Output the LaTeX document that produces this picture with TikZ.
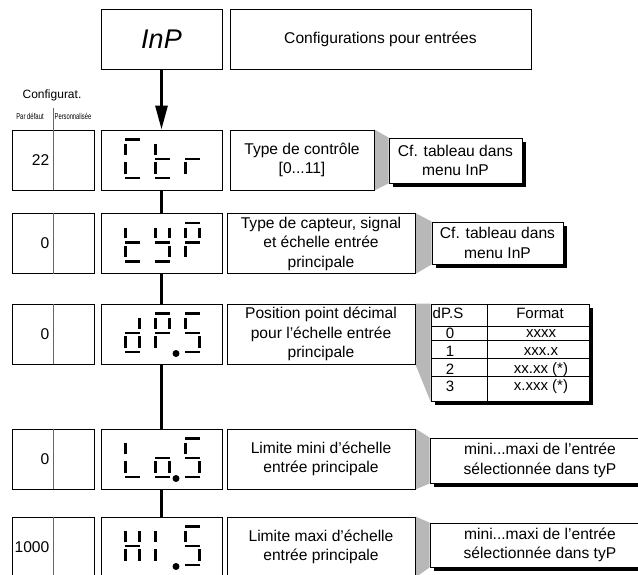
\documentclass[tikz,border=0pt]{standalone}
\usepackage{fontspec}
\usepackage{graphicx}
\setmainfont{Liberation Sans}
\usetikzlibrary{arrows.meta}
\pgfdeclarelayer{bg}
\pgfsetlayers{bg,main}
\newcommand\sgA{\draw[seg] (0,0)--(15,0);}
\newcommand\sgB{\draw[seg] (14.5,4.5)--(14.5,15);}
\newcommand\sgC{\draw[seg] (14.5,22.5)--(14.5,34);}
\newcommand\sgD{\draw[seg] (0,38.3)--(15,38.3);}
\newcommand\sgE{\draw[seg] (0.5,22.5)--(0.5,34);}
\newcommand\sgF{\draw[seg] (0.5,4.5)--(0.5,15);}
\newcommand\sgG{\draw[seg] (0,19.3)--(15,19.3);}
\newcommand\dgt[2]{\begin{scope}[shift={(#1)}]#2\end{scope}}
\newcommand\shadowof[1]{\fill[black] ([shift={(4,4)}]#1.north west) rectangle ([shift={(4,4)}]#1.south east);}
\newcommand\grayjoin[2]{\fill[gfill] (#1.north east) -- (#2.north west) -- (#2.south west) -- (#1.south east) -- cycle;}
\begin{document}
\begin{tikzpicture}[x=1pt,y=-1pt,
  txt/.style={font=\fontsize{15.6}{19.5}\selectfont},
  box/.style={draw=black, line width=0.9pt, fill=white, inner sep=0pt, align=center, txt},
  cfgbox/.style={draw=black, line width=0.9pt, fill=white, minimum width=82pt, minimum height=60pt, inner sep=0pt},
  disp/.style={draw=black, line width=0.9pt, fill=white, minimum width=121pt, minimum height=60pt, inner sep=0pt},
  desc/.style={box, minimum height=60pt},
  seg/.style={line width=2.5pt, line cap=butt},
  conn/.style={line width=3pt},
  gfill/.style={fill=black!28},
  divline/.style={draw=black!60, line width=0.8pt},
  val/.style={anchor=east, inner sep=0pt, txt},
  tline/.style={line width=0.8pt},
  ttxt/.style={inner sep=0pt, font=\fontsize{15}{17}\selectfont},
]
\useasboundingbox (0,0) rectangle (638,574);
\clip (0,0) rectangle (638,574);

% ---------- header ----------
\node[box, minimum width=121pt, minimum height=60pt, font=\fontsize{27}{30}\itshape] (inp) at (161.5,39) {InP};
\node[box, minimum width=301pt, minimum height=60pt] (conf) at (380.5,39) {Configurations pour entrées};

\node[inner sep=0pt, font=\fontsize{12}{14}\selectfont] (cfghead) at (52,95) {Configurat.};
\node[inner sep=0pt, font=\fontsize{8.5}{10}\selectfont] (pardef) at (30,116) {\scalebox{0.7}[1]{Par défaut}};
\node[inner sep=0pt, font=\fontsize{8.5}{10}\selectfont] (perso) at (73,116) {\scalebox{0.68}[1]{Personnalisée}};
\coordinate (divtop) at (53,108);

% ---------- descriptions and callouts ----------
\node[desc, minimum width=144pt] (d1) at (302,160) {Type de contrôle\\{}[0...11]};
\node[box, minimum width=133pt, minimum height=45pt] (c1) at (455.5,160.5) {Cf. tableau dans\\menu InP};
\node[desc, minimum width=188pt] (d2) at (321,243.5) {Type de capteur, signal\\et échelle entrée\\principale};
\node[box, minimum width=131pt, minimum height=42pt] (c2) at (497.5,243) {Cf. tableau dans\\menu InP};
\node[desc, minimum width=188pt] (d3) at (321,334) {Position point décimal\\pour l’échelle entrée\\principale};
\node[box, minimum width=158pt, minimum height=97pt] (tbl) at (510,352.5) {};
\node[desc, minimum width=188pt] (d4) at (321,459) {Limite mini d’échelle\\entrée principale};
\node[box, minimum width=220pt, minimum height=45pt] (c4) at (540,460.5) {mini...maxi de l’entrée\\sélectionnée dans tyP};
\node[desc, minimum width=188pt] (d5) at (321,547) {Limite maxi d’échelle\\entrée principale};
\node[box, minimum width=220pt, minimum height=44pt] (c5) at (540,545) {mini...maxi de l’entrée\\sélectionnée dans tyP};

\begin{pgfonlayer}{bg}
\grayjoin{d1}{c1}
\grayjoin{d2}{c2}
\grayjoin{d3}{tbl}
\grayjoin{d4}{c4}
\grayjoin{d5}{c5}
\shadowof{c1}
\shadowof{c2}
\shadowof{tbl}
\shadowof{c4}
\shadowof{c5}
\end{pgfonlayer}

% ---------- table ----------
\coordinate (tcol) at (487,304);
\draw[tline] (tcol) -- (487,401);
\draw[tline] (431,326.7) -- (589,326.7);
\draw[tline] (431,340.7) -- (589,340.7);
\draw[tline] (431,358.3) -- (589,358.3);
\draw[tline] (431,376) -- (589,376);
\node[ttxt, anchor=west] (th1) at (432.5,313.3) {dP.S};
\node[ttxt] (th2) at (540,313.3) {Format};
\node[ttxt] (tr0) at (450,333.5) {0};
\node[ttxt] (tr1) at (450,351.5) {1};
\node[ttxt] (tr2) at (450,369.5) {2};
\node[ttxt] (tr3) at (450,386.7) {3};
\node[ttxt] (tf0) at (541,333.5) {xxxx};
\node[ttxt] (tf1) at (541,351.5) {xxx.x};
\node[ttxt] (tf2) at (541,369.5) {xx.xx (*)};
\node[ttxt] (tf3) at (541,386.7) {x.xxx (*)};

% ---------- config boxes ----------
\node[cfgbox] (g1) at (53,160) {};
\node[cfgbox] (g2) at (53,243.5) {};
\node[cfgbox] (g3) at (53,334) {};
\node[cfgbox] (g4) at (53,459) {};
\node[cfgbox] (g5) at (53,547) {};
\draw[divline] (divtop) -- (g1.south);
\draw[divline] (g2.north) -- (g2.south);
\draw[divline] (g3.north) -- (g3.south);
\draw[divline] (g4.north) -- (g4.south);
\draw[divline] (g5.north) -- (g5.south);
\node[val] (v1) at (49.5,160) {22};
\node[val] (v2) at (49.5,243.5) {0};
\node[val] (v3) at (49.5,334) {0};
\node[val] (v4) at (49.5,459) {0};
\node[val] (v5) at (49.5,547) {1000};

% ---------- display boxes ----------
\node[disp] (ctr) at (161.5,160) {};
\node[disp] (typ) at (161.5,243.5) {};
\node[disp] (dps) at (161.5,334) {};
\node[disp] (los) at (161.5,459) {};
\node[disp] (his) at (161.5,547) {};

\draw[conn,-{Triangle[length=24pt,width=12pt]}] (inp) -- (ctr);
\draw[conn] (ctr) -- (typ);
\draw[conn] (typ) -- (dps);
\draw[conn] (dps) -- (los);
\draw[conn] (los) -- (his);

% Ctr
\dgt{125,139.5}{\sgA\sgD\sgE\sgF}
\dgt{155,139.5}{\sgD\sgE\sgF\sgG}
\dgt{185,139.5}{\sgE\sgG}
% tyP
\dgt{125,223}{\sgD\sgE\sgF\sgG}
\dgt{155,223}{\sgB\sgC\sgD\sgF\sgG}
\dgt{185,223}{\sgA\sgB\sgE\sgF\sgG}
% dP.S
\dgt{125,313.5}{\sgB\sgC\sgD\sgE\sgG}
\dgt{155,313.5}{\sgA\sgB\sgE\sgF\sgG}
\dgt{185,313.5}{\sgA\sgC\sgD\sgF\sgG}
\fill (176,353.5) circle[radius=3.5pt];
% Lo.S
\dgt{125,438.5}{\sgD\sgE\sgF}
\dgt{155,438.5}{\sgC\sgD\sgE\sgG}
\dgt{185,438.5}{\sgA\sgC\sgD\sgF\sgG}
\fill (176,478.5) circle[radius=3.5pt];
% HI.S
\dgt{125,526.5}{\sgB\sgC\sgE\sgF\sgG}
\dgt{155,526.5}{\sgE\sgF}
\dgt{185,526.5}{\sgA\sgC\sgD\sgF\sgG}
\fill (176,566.5) circle[radius=3.5pt];
\end{tikzpicture}
\end{document}
